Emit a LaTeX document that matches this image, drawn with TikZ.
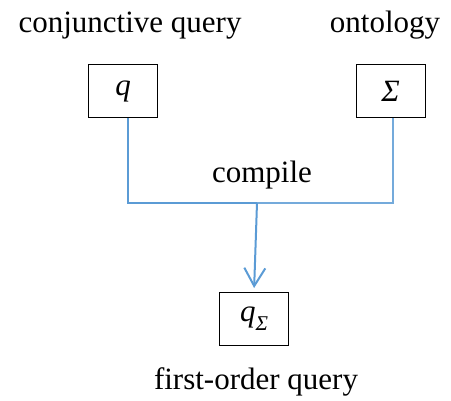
\documentclass[tikz,border=0pt]{standalone}
\usepackage{fontspec}
\setmainfont{Liberation Serif}
\usetikzlibrary{arrows.meta}
\definecolor{linkblue}{RGB}{91,155,213}

\begin{document}
\begin{tikzpicture}[x=1pt, y=-1pt, font=\fontsize{31}{36}\selectfont,
    box/.style={draw, line width=1pt, minimum width=69pt, minimum height=53pt, inner sep=0pt},
    lbl/.style={anchor=base, inner sep=0pt},
    thickl/.style={linkblue, line width=2pt},
    thinl/.style={linkblue!85, line width=1.3pt},
    arr/.style={linkblue, line width=2pt, -{Straight Barb[length=18pt, width=21pt, line width=2pt]}, shorten >=4pt}]
    \useasboundingbox (0,0) rectangle (451,401);
    % nodes
    \node[box] (q) at (123,91) {\itshape q};
    \node[box] (sigma) at (390.5,91) {\itshape Σ};
    \node[box] (qsigma) at (254,319) {\itshape q\raisebox{-0.3em}{\fontsize{21}{24}\selectfont Σ}};
    \node[lbl] (cqlabel) at (130,33) {conjunctive query};
    \node[lbl] (ontlabel) at (385,33) {ontology};
    \node[lbl] (complabel) at (262,183) {compile};
    \node[lbl] (folabel) at (256,390) {first-order query};
    \coordinate (join) at (257,203);
    % edges
    \draw[thinl] ([xshift=2.5pt]sigma.south) |- (join);
    \draw[thickl] ([xshift=5pt]q.south) |- (join);
    \draw[arr] (join) -- (qsigma.north);
\end{tikzpicture}
\end{document}
